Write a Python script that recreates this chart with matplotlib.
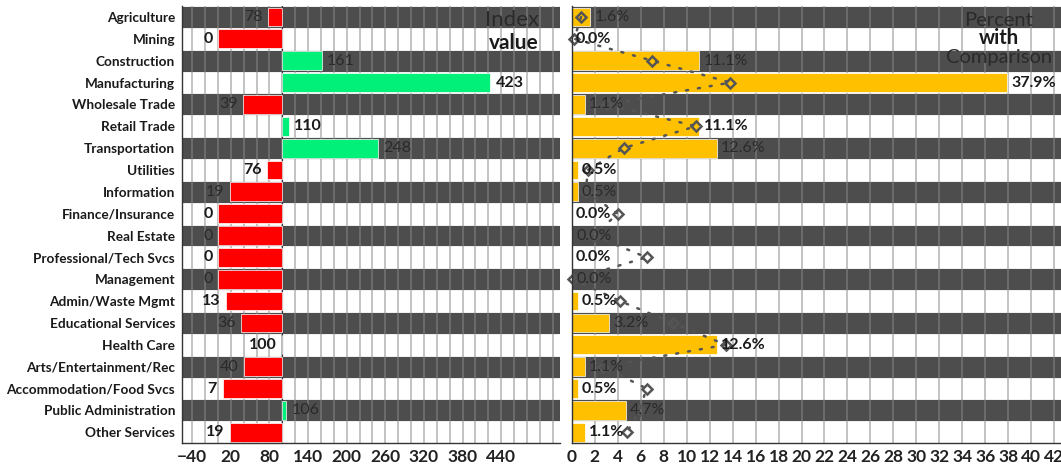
import numpy as np
import matplotlib
matplotlib.use("Agg")
import matplotlib.pyplot as plt

plt.rcParams["font.family"] = ["Lato", "DejaVu Sans"]

# ---- data ---------------------------------------------------------------
INDUSTRIES = ["Agriculture", "Mining", "Construction", "Manufacturing",
              "Wholesale Trade", "Retail Trade", "Transportation", "Utilities",
              "Information", "Finance/Insurance", "Real Estate",
              "Professional/Tech Svcs", "Management", "Admin/Waste Mgmt",
              "Educational Services", "Health Care", "Arts/Entertainment/Rec",
              "Accommodation/Food Svcs", "Public Administration",
              "Other Services"]
INDEX = [78, 0, 161, 423, 39, 110, 248, 76, 19, 0, 0, 0, 0, 13, 36, 100,
         40, 7, 106, 19]
PERCENT = [1.6, 0.0, 11.1, 37.9, 1.1, 11.1, 12.6, 0.5, 0.5, 0.0, 0.0, 0.0,
           0.0, 0.5, 3.2, 12.6, 1.1, 0.5, 4.7, 1.1]
COMPARISON = [0.8, 0.2, 7.0, 13.8, 3.1, 10.8, 4.5, 1.4, 1.2, 4.0, 1.9, 6.5,
              0.1, 4.2, 8.8, 13.4, 2.7, 6.5, 5.9, 4.8]
INDEX_TICKS = [-40, 20, 80, 140, 200, 260, 320, 380, 440]
PCT_TICKS = list(range(0, 43, 2))

# ---- palette ------------------------------------------------------------
DARK = "#4d4d4d"
GRID = "#8a8a8a"
RED = "#ff0000"
GREEN = "#00f07a"
GOLD = "#ffc000"
INK = "#1a1a1a"
INK_D = "#2a2a2a"
MARK = "#555555"
BASE = 100


def bands(ax, n, grid_x):
    for i in range(n):
        if i % 2 == 0:
            ax.axhspan(i - 0.5, i + 0.5, fc=DARK, ec="white", lw=0.6, zorder=0)
    for gx in grid_x:
        ax.axvline(gx, color=GRID, lw=1.2, alpha=0.6, zorder=1)


def style(ax):
    for s in ("top", "right"):
        ax.spines[s].set_visible(False)
    for s in ("left", "bottom"):
        ax.spines[s].set_color("#333333")
        ax.spines[s].set_linewidth(1.0)
        ax.spines[s].set_zorder(6)
    ax.tick_params(length=0)
    ax.tick_params(axis="x", pad=4, labelsize=12.5, labelcolor="#222222")
    for t in ax.get_xticklabels():
        t.set_fontweight("bold")


def label_color(i):
    return (INK_D, "normal") if i % 2 == 0 else (INK, "bold")


fig = plt.figure(figsize=(10.61, 4.65), dpi=100)
fig.patch.set_facecolor("white")
n = len(INDUSTRIES)
y = np.arange(n)

# ---- left: index value --------------------------------------------------
ax1 = fig.add_axes([0.1715, 0.047, 0.356, 0.94])
ax1.set_xlim(-56, 531)
ax1.set_ylim(n - 0.5, -0.5)
bands(ax1, n, np.arange(-40, 540, 20))
vals = np.array(INDEX)
cols = [GREEN if v > BASE else RED for v in vals]
ax1.barh(y, vals - BASE, left=BASE, height=0.86, color=cols,
         ec="white", lw=0.5, zorder=3)
ax1.axvline(BASE, color="#333333", lw=0.8, zorder=2)
for i, v in enumerate(vals):
    c, w = label_color(i)
    if v > BASE:
        off, ha = 4, "left"
    else:
        off, ha = -4, "right"
    ax1.annotate(str(v), xy=(v, i), xytext=(off, 0), textcoords="offset points",
                 ha=ha, va="center", fontsize=11.5, color=c, fontweight=w,
                 zorder=5)
ax1.set_yticks(y)
ax1.set_yticklabels(INDUSTRIES, fontsize=9.8, fontweight="bold", color=INK)
ax1.tick_params(axis="y", pad=5)
ax1.set_xticks(INDEX_TICKS)
style(ax1)
ax1.text(457, 0.12, "Index", ha="center", va="center", fontsize=16,
         color=INK_D, zorder=6)
ax1.text(460, 1.2, "value", ha="center", va="center", fontsize=15,
         color=INK, fontweight="bold", zorder=6)

# ---- right: percent with comparison ------------------------------------
ax2 = fig.add_axes([0.539, 0.047, 0.461, 0.94])
ax2.set_xlim(0, 42.6)
ax2.set_ylim(n - 0.5, -0.5)
bands(ax2, n, np.arange(2, 44, 2))
ax2.barh(y, PERCENT, height=0.86, color=GOLD, ec="white", lw=0.5, zorder=3)
for i, v in enumerate(PERCENT):
    c, w = label_color(i)
    ax2.annotate(f"{v:.1f}%", xy=(v, i), xytext=(3, 0),
                 textcoords="offset points", ha="left", va="center",
                 fontsize=11.5, color=c, fontweight=w, zorder=5)
ax2.plot(COMPARISON, y, color=MARK, lw=1.8, ls=(0, (0.8, 4)),
         dash_capstyle="round", zorder=4, clip_on=False)
ax2.plot(COMPARISON, y, ls="none", marker="D", ms=5, mfc="none",
         mec=MARK, mew=1.8, zorder=4, clip_on=False)
ax2.set_yticks([])
ax2.set_xticks(PCT_TICKS)
style(ax2)
ax2.text(37.2, 0.14, "Percent", ha="center", va="center", fontsize=14.5,
         color=INK_D, zorder=6)
ax2.text(37.2, 0.98, "with", ha="center", va="center", fontsize=14.5,
         color=INK, fontweight="bold", zorder=6)
ax2.text(37.2, 1.84, "Comparison", ha="center", va="center", fontsize=14.5,
         color=INK_D, zorder=6)

fig.savefig("out.png", facecolor="white")
